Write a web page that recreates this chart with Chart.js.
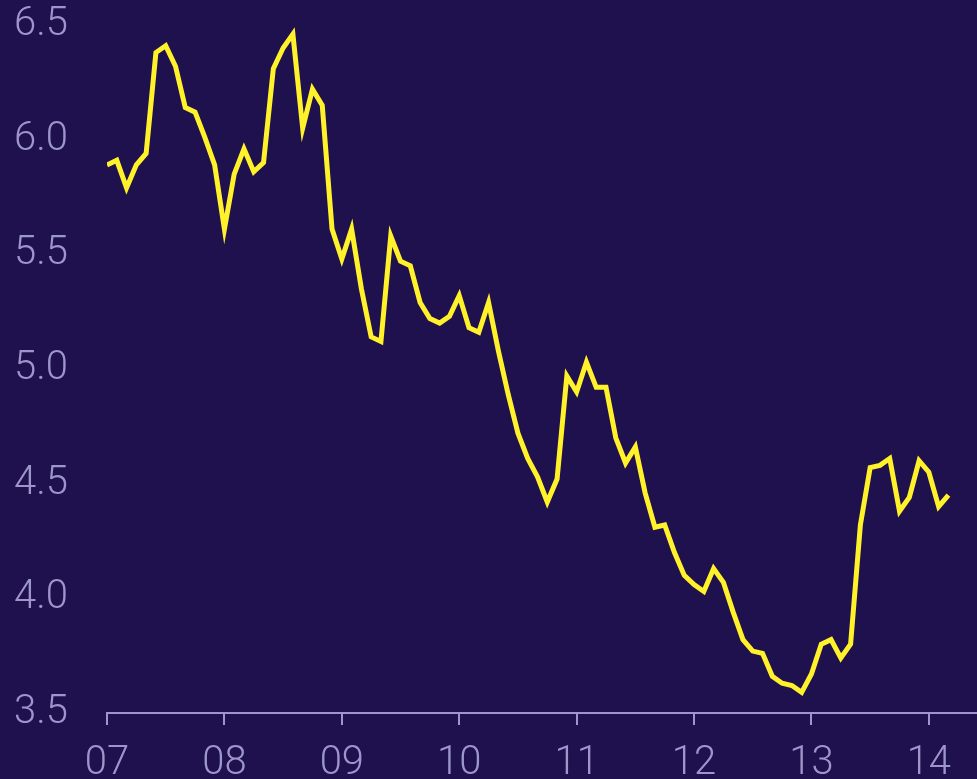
<!DOCTYPE html>
<html>
<head>
<meta charset="utf-8">
<script src="https://cdn.jsdelivr.net/npm/chart.js@4/dist/chart.umd.min.js"></script>
<style>
  html, body { margin: 0; padding: 0; background: #1f104e; }
  canvas { display: block; }
</style>
</head>
<body>
<canvas id="myChart" width="977" height="779"></canvas>
<script>
// monthly values, Jan 2007 - Mar 2014
const startYear = 2007;
const values = [
  5.89, 5.91, 5.79, 5.89, 5.94, 6.38, 6.41, 6.32, 6.14, 6.12, 6.01, 5.89,
  5.61, 5.85, 5.96, 5.86, 5.90, 6.31, 6.40, 6.46, 6.05, 6.22, 6.15, 5.61,
  5.48, 5.61, 5.35, 5.14, 5.12, 5.58, 5.47, 5.45, 5.29, 5.22, 5.20, 5.23,
  5.32, 5.18, 5.16, 5.29, 5.08, 4.89, 4.72, 4.61, 4.53, 4.42, 4.52, 4.97,
  4.90, 5.03, 4.92, 4.92, 4.70, 4.59, 4.66, 4.46, 4.31, 4.32, 4.20, 4.10,
  4.06, 4.03, 4.13, 4.07, 3.94, 3.82, 3.77, 3.76, 3.66, 3.63, 3.62, 3.59,
  3.67, 3.80, 3.82, 3.74, 3.80, 4.32, 4.57, 4.58, 4.61, 4.38, 4.44, 4.60,
  4.55, 4.40, 4.45
];
const yearTicks = [2007, 2008, 2009, 2010, 2011, 2012, 2013, 2014];
const yearLabels = ['07', '08', '09', '10', '11', '12', '13', '14'];
const yTicks = [3.5, 4.0, 4.5, 5.0, 5.5, 6.0, 6.5];

const axisColor = '#9d96ca';
const tickFont = { family: 'Roboto', size: 40, weight: 300 };

const points = values.map((v, i) => ({ x: startYear + i / 12, y: v }));

const chart = new Chart(document.getElementById('myChart'), {
  type: 'line',
  data: {
    datasets: [{
      data: points,
      borderColor: '#fff22b',
      borderWidth: 5,
      pointRadius: 0,
      tension: 0,
      fill: false
    }]
  },
  options: {
    responsive: false,
    animation: false,
    layout: { padding: { top: 25, right: 0, bottom: 0, left: 0 } },
    plugins: {
      legend: { display: false },
      tooltip: { enabled: false }
    },
    scales: {
      x: {
        type: 'linear',
        min: 2007,
        max: 2014.41,
        afterBuildTicks: s => { s.ticks = yearTicks.map(v => ({ value: v })); },
        afterFit: s => {
          s.height = 66;
          s.paddingLeft = 0; s.paddingRight = 0;
        },
        ticks: {
          color: axisColor,
          font: tickFont,
          padding: 15,
          maxRotation: 0,
          autoSkip: false,
          callback: v => yearLabels[yearTicks.indexOf(v)]
        },
        grid: {
          display: true,
          drawOnChartArea: false,
          drawTicks: true,
          tickLength: 12,
          color: axisColor,
          lineWidth: 2
        },
        border: { display: true, color: axisColor, width: 2 }
      },
      y: {
        min: 3.5,
        max: 6.5,
        afterBuildTicks: s => { s.ticks = yTicks.map(v => ({ value: v })); },
        afterFit: s => {
          s.width = 107;
          s.paddingTop = 0; s.paddingBottom = 0;
        },
        ticks: {
          color: axisColor,
          font: tickFont,
          padding: 39,
          callback: v => v.toFixed(1)
        },
        grid: { display: false, drawTicks: false },
        border: { display: false }
      }
    }
  }
});
</script>
</body>
</html>
